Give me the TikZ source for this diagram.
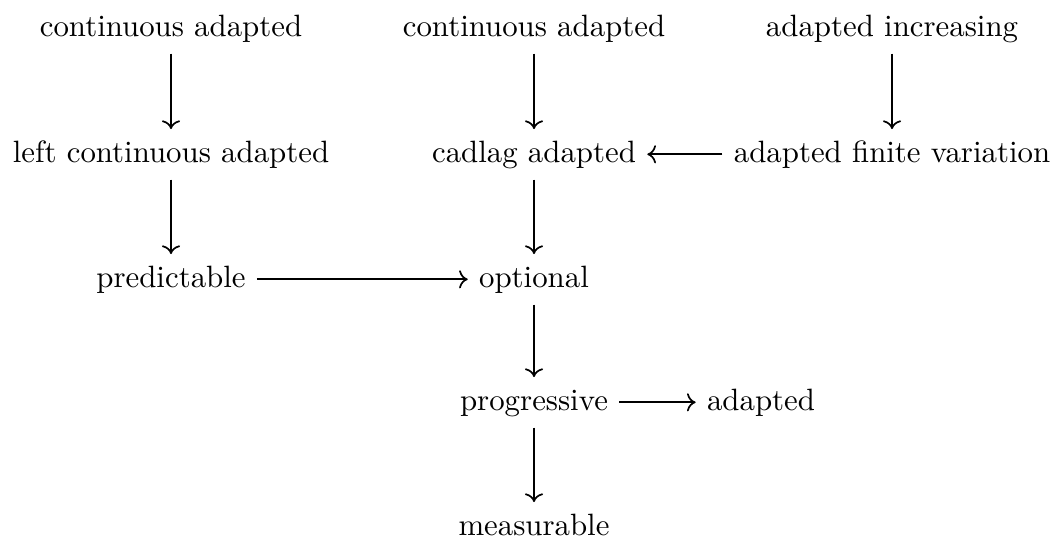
\documentclass[tikz,border=0pt]{standalone}
\usetikzlibrary{arrows.meta}
\begin{document}
\begin{tikzpicture}[x=0.3243pt,y=-0.3243pt,
  lbl/.style={anchor=base,inner sep=3.5pt,text height=7pt,text depth=2pt},
  imp/.style={-{Computer Modern Rightarrow},line width=0.55pt}]
\useasboundingbox (0,0) rectangle (1055,537);
\node[lbl] (ca1) at (171,36) {continuous adapted};
\node[lbl] (lca) at (171,162) {left continuous adapted};
\node[lbl] (pred) at (171,287) {predictable};
\node[lbl] (ca2) at (534,36) {continuous adapted};
\node[lbl] (cad) at (534,162) {cadlag adapted};
\node[lbl] (opt) at (534,287) {optional};
\node[lbl] (prog) at (534,410) {progressive};
\node[lbl] (meas) at (534,535) {measurable};
\node[lbl] (ai) at (892,36) {adapted increasing};
\node[lbl] (afv) at (892,162) {adapted finite variation};
\node[lbl] (adp) at (761,410) {adapted};
\draw[imp] (ca1) -- (lca);
\draw[imp] (lca) -- (pred);
\draw[imp] (pred) -- (opt);
\draw[imp] (ca2) -- (cad);
\draw[imp] (cad) -- (opt);
\draw[imp] (opt) -- (prog);
\draw[imp] (prog) -- (meas);
\draw[imp] (prog) -- (adp);
\draw[imp] (ai) -- (afv);
\draw[imp] (afv) -- (cad);
\end{tikzpicture}
\end{document}
